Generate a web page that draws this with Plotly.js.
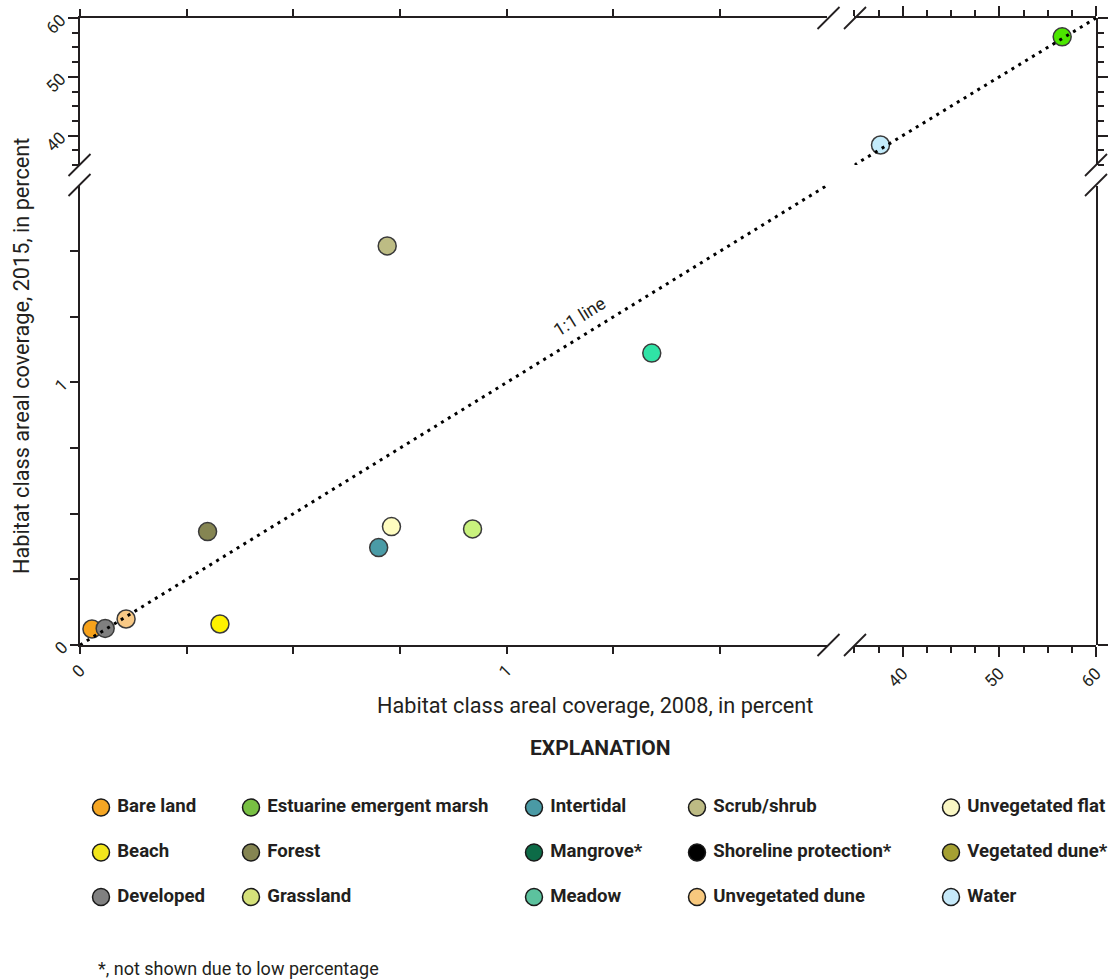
<!DOCTYPE html>
<html><head><meta charset="utf-8">
<script src="https://cdn.plot.ly/plotly-3.0.1.min.js"></script>
<style>html,body{margin:0;padding:0;background:#fff}</style>
</head><body><div id="chart" style="width:1112px;height:980px"></div>
<script>
// ---- data ----
const classes = ['Bare land','Developed','Unvegetated dune','Beach','Forest','Intertidal','Unvegetated flat','Scrub/shrub','Grassland','Meadow','Water','Estuarine emergent marsh'];
const coverage2008 = [0.028, 0.059, 0.108, 0.328, 0.299, 0.700, 0.730, 0.720, 0.920, 1.340, 37.7, 56.5];
const coverage2015 = [0.061, 0.063, 0.099, 0.080, 0.432, 0.371, 0.451, 1.520, 0.442, 1.112, 38.4, 56.8];
const pointColors = ['#F7A21B','#7F7F7F','#F8C986','#FFF200','#858552','#4A9BA6','#FFFDC0','#BDBC84','#C9F27D','#30E3A6','#C3EBFA','#4CE600'];

const legendClasses = ['Bare land','Beach','Developed','Estuarine emergent marsh','Forest','Grassland','Intertidal','Mangrove*','Meadow','Scrub/shrub','Shoreline protection*','Unvegetated dune','Unvegetated flat','Vegetated dune*','Water'];
const legendColors = ['#F5A623','#F2E61C','#808080','#78C043','#858552','#D5E17A','#4A9AA5','#0D6B47','#5CC29E','#BDBB84','#000000','#F7C87E','#FAF7C4','#A5A032','#C6E9F9'];

const lowTicks = [0, 0.25, 0.5, 0.75, 1, 1.25, 1.5];
const lowTickText = ['0', '', '', '', '1', '', ''];
const highTicks = [40, 50, 60];
const highTickText = ['40', '50', '60'];
const lowRange = [0, 1.75];
const highRange = [35, 60];

// ---- layout geometry (pixels in a 1112 x 980 figure) ----
const W = 1112, H = 980;
const px = x => x / W;
const py = y => 1 - y / H;
const FONT = 'Roboto, Liberation Sans, sans-serif';
const INK = '#231f20';

const xLowDom = [px(80), px(826.7)];
const xHighDom = [px(854.4), px(1096)];
const yLowDom = [py(645), py(185.6)];
const yHighDom = [py(165), py(18)];

// ---- traces ----
const lowX = [], lowY = [], lowC = [], lowN = [], hiX = [], hiY = [], hiC = [], hiN = [];
classes.forEach((c, i) => {
  if (coverage2008[i] >= highRange[0]) { hiX.push(coverage2008[i]); hiY.push(coverage2015[i]); hiC.push(pointColors[i]); hiN.push(c); }
  else { lowX.push(coverage2008[i]); lowY.push(coverage2015[i]); lowC.push(pointColors[i]); lowN.push(c); }
});
const markerLine = {color: '#3a3a3a', width: 1.5};
const traces = [
  {type: 'scatter', mode: 'markers', x: lowX, y: lowY, text: lowN, xaxis: 'x', yaxis: 'y',
   marker: {size: 18, color: lowC, line: markerLine}, hovertemplate: '%{text}<br>2008: %{x}<br>2015: %{y}<extra></extra>', showlegend: false},
  {type: 'scatter', mode: 'markers', x: hiX, y: hiY, text: hiN, xaxis: 'x2', yaxis: 'y2',
   marker: {size: 18, color: hiC, line: markerLine}, hovertemplate: '%{text}<br>2008: %{x}<br>2015: %{y}<extra></extra>', showlegend: false},
  {type: 'scatter', mode: 'lines', x: lowRange, y: lowRange, xaxis: 'x', yaxis: 'y',
   line: {color: '#000', width: 3, dash: '3px,5px'}, hoverinfo: 'skip', showlegend: false},
  {type: 'scatter', mode: 'lines', x: highRange, y: highRange, xaxis: 'x2', yaxis: 'y2',
   line: {color: '#000', width: 3, dash: '3px,5px'}, hoverinfo: 'skip', showlegend: false},
  // empty traces so the mirror frame axes get subplots
  {type: 'scatter', x: [null], y: [null], xaxis: 'x3', yaxis: 'y2', hoverinfo: 'skip', showlegend: false},
  {type: 'scatter', x: [null], y: [null], xaxis: 'x4', yaxis: 'y2', hoverinfo: 'skip', showlegend: false},
  {type: 'scatter', x: [null], y: [null], xaxis: 'x2', yaxis: 'y3', hoverinfo: 'skip', showlegend: false},
  {type: 'scatter', x: [null], y: [null], xaxis: 'x2', yaxis: 'y4', hoverinfo: 'skip', showlegend: false}
];

// custom explanation (legend) drawn as a marker+text trace on a hidden pixel axis
const colX = [101, 251, 534, 697, 951];
const rowY = [807.5, 852.5, 897];
traces.push({
  type: 'scatter', mode: 'markers+text', xaxis: 'x5', yaxis: 'y5',
  x: legendClasses.map((_, i) => colX[Math.floor(i / 3)]),
  y: legendClasses.map((_, i) => rowY[i % 3]),
  text: legendClasses.map(t => '\u00A0' + t), textposition: 'middle right',
  textfont: {family: FONT, size: 18.6, color: INK, weight: 'bold'},
  marker: {size: 17, color: legendColors, line: {color: '#1a1a1a', width: 1.5}},
  hoverinfo: 'skip', showlegend: false, cliponaxis: false
});

const baseAx = {showgrid: false, zeroline: false, showline: true, linecolor: INK, linewidth: 1.5,
  ticks: 'outside', tickcolor: INK, tickwidth: 1.5, tickfont: {family: FONT, size: 17, color: INK},
  tickangle: -45, fixedrange: true};
const minorHigh = {ticks: 'outside', tick0: 35, dtick: 2.5, ticklen: 6, tickcolor: INK, tickwidth: 1.5};

const layout = {
  width: W, height: H, margin: {l: 0, r: 0, t: 0, b: 0},
  paper_bgcolor: '#fff', plot_bgcolor: 'rgba(0,0,0,0)', showlegend: false,
  font: {family: FONT, color: INK},
  xaxis: Object.assign({}, baseAx, {domain: xLowDom, range: lowRange, anchor: 'y', tickmode: 'array', tickvals: lowTicks, ticktext: lowTickText, ticklen: 7}),
  xaxis2: Object.assign({}, baseAx, {domain: xHighDom, range: highRange, anchor: 'y', tickmode: 'array', tickvals: highTicks, ticktext: highTickText, ticklen: 10, minor: minorHigh}),
  xaxis3: Object.assign({}, baseAx, {domain: xLowDom, range: lowRange, anchor: 'y2', side: 'top', tickmode: 'array', tickvals: lowTicks, showticklabels: false, ticklen: 7}),
  xaxis4: Object.assign({}, baseAx, {domain: xHighDom, range: highRange, anchor: 'y2', side: 'top', tickmode: 'array', tickvals: highTicks, showticklabels: false, ticklen: 10, minor: minorHigh}),
  yaxis: Object.assign({}, baseAx, {domain: yLowDom, range: lowRange, anchor: 'x', tickmode: 'array', tickvals: lowTicks, ticktext: lowTickText, ticklen: 8, ticklabelstandoff: 4}),
  yaxis2: Object.assign({}, baseAx, {domain: yHighDom, range: highRange, anchor: 'x', tickmode: 'array', tickvals: highTicks, ticktext: highTickText, ticklen: 10, minor: minorHigh, ticklabelstandoff: 4}),
  yaxis3: Object.assign({}, baseAx, {domain: yLowDom, range: lowRange, anchor: 'x2', side: 'right', tickmode: 'array', tickvals: [0], showticklabels: false, ticklen: 10}),
  yaxis4: Object.assign({}, baseAx, {domain: yHighDom, range: highRange, anchor: 'x2', side: 'right', tickmode: 'array', tickvals: highTicks, showticklabels: false, ticklen: 10, minor: minorHigh}),
  xaxis5: {domain: [0, 1], range: [0, W], anchor: 'y5', visible: false, fixedrange: true},
  yaxis5: {domain: [0, 1], range: [H, 0], anchor: 'x5', visible: false, fixedrange: true},
  annotations: [
    {text: 'Habitat class areal coverage, 2008, in percent', xref: 'paper', yref: 'paper', x: px(595), y: py(705), xanchor: 'center', yanchor: 'middle', showarrow: false, font: {family: FONT, size: 21.7, color: INK}},
    {text: 'Habitat class areal coverage, 2015, in percent', xref: 'paper', yref: 'paper', x: px(21), y: py(356), xanchor: 'center', yanchor: 'middle', textangle: -90, showarrow: false, font: {family: FONT, size: 21.7, color: INK}},
    {text: '<b>EXPLANATION</b>', xref: 'paper', yref: 'paper', x: px(600), y: py(748), xanchor: 'center', yanchor: 'middle', showarrow: false, font: {family: FONT, size: 21, color: INK}},
    {text: '*, not shown due to low percentage', xref: 'paper', yref: 'paper', x: px(96), y: py(968), xanchor: 'left', yanchor: 'middle', showarrow: false, font: {family: FONT, size: 18, color: INK}},
    {text: '1:1 line', xref: 'x', yref: 'y', x: 1.17, y: 1.25, xanchor: 'center', yanchor: 'middle', textangle: -31.6, showarrow: false, font: {family: FONT, size: 18, color: INK}}
  ],
  shapes: []
};

// axis-break slashes
const breaks = [[828.5, 645], [855, 645], [828.5, 18], [855, 18], [79.5, 165], [79.5, 185], [1096, 165], [1096, 185]];
breaks.forEach(([cx, cy]) => {
  layout.shapes.push({type: 'line', xref: 'paper', yref: 'paper', x0: px(cx - 11), y0: py(cy + 11), x1: px(cx + 11), y1: py(cy - 11), line: {color: INK, width: 1.8}});
});

Plotly.newPlot('chart', traces, layout, {displayModeBar: false});
</script>
</body></html>
